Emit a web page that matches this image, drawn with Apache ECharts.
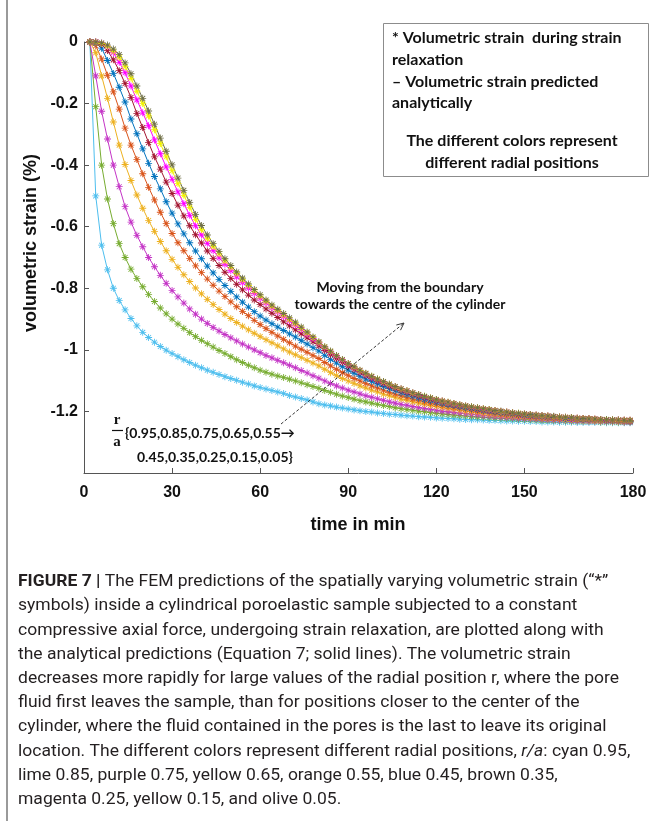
<!DOCTYPE html>
<html><head><meta charset="utf-8">
<script src="https://cdn.jsdelivr.net/npm/echarts@6/dist/echarts.min.js"></script>
<style>html,body{margin:0;padding:0;background:#fff}#c{width:652px;height:821px}</style>
</head><body><div id="c"></div>
<script>
// time in min (sample instants)
const times = [2,4,6,8,10,12,14,16,18,20,22,24,26,28,30,32,34,36,38,40,42,44,46,48,50,52,54,56,58,60,62,64,66,68,70,72,74,76,78,80,82,84,86,88,90,92,94,96,98,100,102,104,106,108,110,112,114,116,118,120,122,124,126,128,130,132,134,136,138,140,142,144,146,148,150,152,154,156,158,160,162,164,166,168,170,172,174,176,178,180,182,184,186];

// volumetric strain (%) per radial position r/a
const r095 = [0,-0.50,-0.66,-0.74,-0.80,-0.84,-0.87,-0.898,-0.922,-0.943,-0.96,-0.975,-0.989,-1.001,-1.012,-1.022,-1.032,-1.041,-1.05,-1.058,-1.066,-1.073,-1.08,-1.087,-1.093,-1.099,-1.105,-1.111,-1.117,-1.122,-1.127,-1.132,-1.137,-1.142,-1.148,
  -1.153,-1.158,-1.163,-1.169,
  -1.175,-1.179,-1.182,-1.186,-1.189,-1.192,-1.195,-1.198,-1.200,-1.202,-1.205,-1.207,-1.209,-1.210,-1.212,-1.214,-1.215,-1.217,-1.218,-1.219,-1.221,-1.222,-1.223,-1.224,-1.225,-1.226,-1.227,-1.227,-1.228,-1.229,-1.229,-1.230,-1.231,-1.231,-1.232,-1.232,-1.233,-1.233,-1.234,-1.234,-1.234,-1.235,-1.235,-1.235,-1.236,-1.236,-1.236,-1.236,-1.236,-1.237,-1.237,-1.237,-1.237,-1.237];
const r085 = [0,-0.21,-0.40,-0.51,-0.59,-0.655,-0.70,-0.738,-0.768,-0.795,-0.82,-0.843,-0.864,-0.883,-0.90,-0.916,-0.93,-0.944,-0.957,-0.969,-0.98,-0.991,-1.002,-1.012,-1.022,-1.032,-1.041,-1.05,-1.058,-1.066,-1.073,-1.079,-1.085,-1.09,-1.095,
  -1.101,-1.107,-1.113,-1.119,
  -1.125,-1.132,-1.138,-1.144,-1.150,-1.155,-1.160,-1.165,-1.169,-1.173,-1.177,-1.181,-1.184,-1.188,-1.191,-1.194,-1.196,-1.199,-1.201,-1.204,-1.206,-1.208,-1.210,-1.212,-1.213,-1.215,-1.216,-1.218,-1.219,-1.220,-1.221,-1.222,-1.223,-1.224,-1.225,-1.226,-1.227,-1.228,-1.229,-1.229,-1.230,-1.230,-1.231,-1.232,-1.232,-1.233,-1.233,-1.233,-1.234,-1.234,-1.234,-1.235,-1.235,-1.235];
const r075 = [0,-0.11,-0.225,-0.315,-0.40,-0.47,-0.535,-0.585,-0.628,-0.665,-0.70,-0.73,-0.758,-0.784,-0.807,-0.828,-0.848,-0.867,-0.884,-0.90,-0.914,-0.927,-0.939,-0.95,-0.961,-0.971,-0.981,-0.991,-1.0,-1.009,-1.018,-1.026,-1.034,-1.042,-1.05,
  -1.058,-1.067,-1.075,-1.084,
  -1.092,-1.101,-1.109,-1.117,-1.124,-1.131,-1.137,-1.143,-1.149,-1.154,-1.159,-1.164,-1.169,-1.173,-1.177,-1.180,-1.184,-1.187,-1.190,-1.193,-1.196,-1.199,-1.201,-1.203,-1.205,-1.207,-1.209,-1.211,-1.213,-1.214,-1.216,-1.217,-1.219,-1.220,-1.221,-1.222,-1.223,-1.224,-1.225,-1.226,-1.227,-1.228,-1.228,-1.229,-1.230,-1.230,-1.231,-1.231,-1.232,-1.232,-1.233,-1.233,-1.234,-1.234];
const r065 = [0,-0.035,-0.11,-0.183,-0.26,-0.335,-0.398,-0.45,-0.497,-0.54,-0.58,-0.615,-0.648,-0.678,-0.706,-0.732,-0.756,-0.778,-0.799,-0.818,-0.836,-0.853,-0.869,-0.884,-0.898,-0.911,-0.923,-0.935,-0.946,-0.957,-0.967,-0.977,-0.987,-0.997,-1.007,
  -1.016,-1.025,-1.034,-1.043,
  -1.052,-1.063,-1.074,-1.083,-1.093,-1.101,-1.109,-1.117,-1.124,-1.131,-1.137,-1.144,-1.149,-1.155,-1.160,-1.164,-1.169,-1.173,-1.177,-1.181,-1.184,-1.187,-1.190,-1.193,-1.196,-1.199,-1.201,-1.203,-1.206,-1.208,-1.210,-1.211,-1.213,-1.215,-1.216,-1.217,-1.219,-1.220,-1.221,-1.222,-1.223,-1.224,-1.225,-1.226,-1.227,-1.228,-1.228,-1.229,-1.230,-1.230,-1.231,-1.231,-1.232,-1.232];
const r055 = [0,-0.012,-0.055,-0.108,-0.162,-0.218,-0.28,-0.335,-0.382,-0.428,-0.472,-0.513,-0.553,-0.59,-0.622,-0.652,-0.678,-0.703,-0.727,-0.749,-0.77,-0.79,-0.809,-0.827,-0.844,-0.86,-0.875,-0.889,-0.904,-0.918,-0.931,-0.943,-0.955,-0.966,-0.977,
  -0.988,-0.998,-1.008,-1.018,
  -1.028,-1.041,-1.052,-1.063,-1.074,-1.083,-1.093,-1.101,-1.109,-1.117,-1.124,-1.131,-1.138,-1.144,-1.149,-1.155,-1.160,-1.164,-1.169,-1.173,-1.177,-1.181,-1.184,-1.187,-1.190,-1.193,-1.196,-1.199,-1.201,-1.203,-1.206,-1.208,-1.210,-1.211,-1.213,-1.215,-1.216,-1.218,-1.219,-1.220,-1.221,-1.222,-1.223,-1.224,-1.225,-1.226,-1.227,-1.228,-1.228,-1.229,-1.230,-1.230,-1.231,-1.232];
const r045 = [0,-0.003,-0.02,-0.06,-0.102,-0.147,-0.195,-0.25,-0.298,-0.347,-0.394,-0.437,-0.477,-0.519,-0.556,-0.591,-0.623,-0.652,-0.679,-0.704,-0.728,-0.75,-0.771,-0.791,-0.81,-0.828,-0.845,-0.861,-0.876,-0.89,-0.903,-0.915,-0.926,-0.937,-0.948,
  -0.958,-0.970,-0.981,-0.993,
  -1.004,-1.018,-1.031,-1.043,-1.055,-1.066,-1.076,-1.086,-1.095,-1.103,-1.111,-1.119,-1.126,-1.133,-1.139,-1.145,-1.151,-1.156,-1.161,-1.165,-1.170,-1.174,-1.178,-1.181,-1.185,-1.188,-1.191,-1.194,-1.197,-1.199,-1.202,-1.204,-1.206,-1.208,-1.210,-1.212,-1.213,-1.215,-1.216,-1.218,-1.219,-1.220,-1.222,-1.223,-1.224,-1.225,-1.225,-1.226,-1.227,-1.228,-1.229,-1.229,-1.230,-1.231];
const r035 = [0,0,-0.008,-0.028,-0.058,-0.093,-0.135,-0.18,-0.232,-0.278,-0.327,-0.373,-0.413,-0.455,-0.492,-0.53,-0.565,-0.597,-0.626,-0.653,-0.679,-0.703,-0.726,-0.748,-0.768,-0.787,-0.805,-0.822,-0.838,-0.853,-0.867,-0.881,-0.895,-0.909,-0.922,
  -0.935,-0.948,-0.961,-0.974,
  -0.987,-1.002,-1.016,-1.029,-1.041,-1.053,-1.064,-1.074,-1.084,-1.093,-1.102,-1.110,-1.118,-1.125,-1.132,-1.138,-1.144,-1.150,-1.155,-1.160,-1.165,-1.169,-1.173,-1.177,-1.181,-1.184,-1.188,-1.191,-1.194,-1.196,-1.199,-1.201,-1.204,-1.206,-1.208,-1.210,-1.211,-1.213,-1.215,-1.216,-1.218,-1.219,-1.220,-1.221,-1.222,-1.223,-1.224,-1.225,-1.226,-1.227,-1.228,-1.229,-1.229,-1.230];
const r025 = [0,0,-0.004,-0.015,-0.035,-0.066,-0.1,-0.143,-0.188,-0.23,-0.272,-0.318,-0.363,-0.406,-0.446,-0.487,-0.525,-0.563,-0.597,-0.627,-0.654,-0.678,-0.701,-0.722,-0.743,-0.763,-0.782,-0.8,-0.817,-0.833,-0.848,-0.863,-0.877,-0.892,-0.906,
  -0.920,-0.934,-0.949,-0.963,
  -0.977,-0.993,-1.007,-1.021,-1.034,-1.046,-1.057,-1.068,-1.078,-1.088,-1.097,-1.105,-1.113,-1.120,-1.127,-1.134,-1.140,-1.146,-1.152,-1.157,-1.162,-1.166,-1.171,-1.175,-1.179,-1.182,-1.186,-1.189,-1.192,-1.195,-1.197,-1.200,-1.202,-1.204,-1.207,-1.208,-1.210,-1.212,-1.214,-1.215,-1.217,-1.218,-1.219,-1.221,-1.222,-1.223,-1.224,-1.225,-1.226,-1.227,-1.227,-1.228,-1.229,-1.229];
const r015 = [0,-0.001,-0.005,-0.014,-0.03,-0.05,-0.08,-0.118,-0.16,-0.2,-0.24,-0.285,-0.33,-0.373,-0.418,-0.46,-0.498,-0.537,-0.576,-0.61,-0.638,-0.664,-0.688,-0.711,-0.732,-0.752,-0.772,-0.791,-0.809,-0.826,-0.842,-0.858,-0.873,-0.887,-0.901,
  -0.915,-0.930,-0.945,-0.960,
  -0.975,-0.991,-1.005,-1.019,-1.032,-1.044,-1.056,-1.067,-1.077,-1.086,-1.095,-1.104,-1.112,-1.120,-1.127,-1.133,-1.140,-1.145,-1.151,-1.156,-1.161,-1.166,-1.170,-1.174,-1.178,-1.182,-1.185,-1.188,-1.191,-1.194,-1.197,-1.200,-1.202,-1.204,-1.206,-1.208,-1.210,-1.212,-1.214,-1.215,-1.217,-1.218,-1.219,-1.220,-1.222,-1.223,-1.224,-1.225,-1.226,-1.226,-1.227,-1.228,-1.229,-1.229];
const r005 = [0,0,-0.003,-0.01,-0.023,-0.041,-0.068,-0.103,-0.143,-0.183,-0.224,-0.267,-0.312,-0.355,-0.399,-0.442,-0.482,-0.521,-0.56,-0.596,-0.627,-0.655,-0.68,-0.704,-0.726,-0.747,-0.767,-0.786,-0.804,-0.821,-0.838,-0.854,-0.868,-0.882,-0.896,
  -0.910,-0.926,-0.942,-0.958,
  -0.974,-0.990,-1.004,-1.018,-1.031,-1.044,-1.055,-1.066,-1.076,-1.086,-1.095,-1.103,-1.111,-1.119,-1.126,-1.133,-1.139,-1.145,-1.151,-1.156,-1.161,-1.166,-1.170,-1.174,-1.178,-1.182,-1.185,-1.188,-1.191,-1.194,-1.197,-1.199,-1.202,-1.204,-1.206,-1.208,-1.210,-1.212,-1.213,-1.215,-1.216,-1.218,-1.219,-1.220,-1.222,-1.223,-1.224,-1.225,-1.226,-1.226,-1.227,-1.228,-1.229,-1.229];

const radialPositions = ['0.95','0.85','0.75','0.65','0.55','0.45','0.35','0.25','0.15','0.05'];
const seriesValues = [r095,r085,r075,r065,r055,r045,r035,r025,r015,r005];
const seriesColors = ['#4DBEEE','#77AC30','#C434C6','#EDB120','#D95319','#0072BD','#A2142F','#FF00FF','#F2F200','#6F6F45'];

const xTickValues = [0,30,60,90,120,150,187];
const xTickLabels = ['0','30','60','90','120','150','180'];

const asterisk = 'path://M44 0H56V100H44Z M0 44H100V56H0Z M10.4 18.8L18.8 10.4L89.6 81.2L81.2 89.6Z M81.2 10.4L89.6 18.8L18.8 89.6L10.4 81.2Z';

const chart = echarts.init(document.getElementById('c'), null, {renderer:'canvas'});

const series = seriesValues.map((vals, k) => ({
  name: 'r/a ' + radialPositions[k],
  type: 'line',
  data: times.map((t, i) => [t, vals[i]]),
  symbol: asterisk,
  symbolSize: 7,
  symbolKeepAspect: true,
  showSymbol: true,
  showAllSymbol: true,
  lineStyle: {width: 1, color: seriesColors[k]},
  itemStyle: {color: seriesColors[k]},
  emphasis: {disabled: true},
  animation: false,
  silent: true
}));

const tickFont = {fontFamily: '"Liberation Sans", Arial, sans-serif', fontWeight: 'bold', fontSize: 16, color: '#111'};
const calibri = '"Lato", "Open Sans", sans-serif';

function txt(x, y, text, font, align, extra) {
  return Object.assign({
    type: 'text', x: x, y: y, silent: true,
    style: {text: text, font: font, fill: '#111', textAlign: align || 'left', align: align || 'left',
            textVerticalAlign: 'middle', verticalAlign: 'middle'}
  }, extra || {});
}

const legendFont = 'bold 16px ' + calibri;
const annFont = 'bold 14px ' + calibri;
const setFont = 'bold 14px ' + calibri;
const capFamily = 'Roboto, "Liberation Sans", sans-serif';
const captionLines = [
  '{b|FIGURE 7 |} The FEM predictions of the spatially varying volumetric strain (“*”',
  'symbols) inside a cylindrical poroelastic sample subjected to a constant',
  'compressive axial force, undergoing strain relaxation, are plotted along with',
  'the analytical predictions (Equation 7; solid lines). The volumetric strain',
  'decreases more rapidly for large values of the radial position r, where the pore',
  'fluid first leaves the sample, than for positions closer to the center of the',
  'cylinder, where the fluid contained in the pores is the last to leave its original',
  'location. The different colors represent different radial positions, {i|r/a}: cyan 0.95,',
  'lime 0.85, purple 0.75, yellow 0.65, orange 0.55, blue 0.45, brown 0.35,',
  'magenta 0.25, yellow 0.15, and olive 0.05.'
];

const graphics = [
  {type: 'rect', shape: {x: 6, y: 0, width: 2, height: 821}, style: {fill: '#9a9a9a'}, silent: true},
  {type: 'rect', shape: {x: 383.5, y: 23.5, width: 265, height: 153}, style: {fill: '#fff', stroke: '#8c8c8c', lineWidth: 1}, silent: true, z: 10},
  txt(392, 38, '* Volumetric strain  during strain', legendFont, 'left', {z: 11}),
  txt(392, 60, 'relaxation', legendFont, 'left', {z: 11}),
  txt(392, 82, '– Volumetric strain predicted', legendFont, 'left', {z: 11}),
  txt(392, 103, 'analytically', legendFont, 'left', {z: 11}),
  txt(512, 141, 'The different colors represent', legendFont, 'center', {z: 11}),
  txt(512, 163, 'different radial positions', legendFont, 'center', {z: 11}),
  txt(400, 287, 'Moving from the boundary', annFont, 'center', {z: 11}),
  txt(400, 304, 'towards the centre of the cylinder', annFont, 'center', {z: 11}),
  {type: 'line', shape: {x1: 281, y1: 424, x2: 404, y2: 323}, style: {stroke: '#222', lineWidth: 0.9, lineDash: [3, 2]}, silent: true, z: 11},
  {type: 'polyline', shape: {points: [[396.3, 325], [404, 323], [400.5, 330.2]]}, style: {stroke: '#222', lineWidth: 0.9, fill: null}, silent: true, z: 11},
  txt(117, 420, 'r', 'bold 15px "Liberation Serif", "DejaVu Serif", serif', 'center', {z: 11}),
  {type: 'line', shape: {x1: 112, y1: 430.5, x2: 123, y2: 430.5}, style: {stroke: '#111', lineWidth: 1.2}, silent: true, z: 11},
  txt(117, 442, 'a', 'bold 15px "Liberation Serif", "DejaVu Serif", serif', 'center', {z: 11}),
  txt(125, 433, '{0.95,0.85,0.75,0.65,0.55→', setFont, 'left', {z: 11}),
  txt(137, 457, '0.45,0.35,0.25,0.15,0.05}', setFont, 'left', {z: 11}),
  txt(31, 243, 'volumetric strain (%)', 'bold 18px "Liberation Sans", Arial, sans-serif', 'center', {rotation: Math.PI / 2}),
  txt(358, 525, 'time in min', 'bold 18px "Liberation Sans", Arial, sans-serif', 'center')
];

captionLines.forEach((line, i) => {
  graphics.push({
    type: 'text', x: 18, y: 582 + i * 24.2, scaleX: 1.03, silent: true,
    style: {
      text: line, fontFamily: capFamily, fontSize: 17, fontWeight: 'normal', fill: '#231f20',
      textVerticalAlign: 'middle', verticalAlign: 'middle',
      rich: {
        b: {fontFamily: capFamily, fontSize: 17, fontWeight: 'bold', fill: '#231f20'},
        i: {fontFamily: capFamily, fontSize: 17, fontStyle: 'italic', fill: '#231f20'}
      }
    }
  });
});

chart.setOption({
  animation: false,
  backgroundColor: '#fff',
  grid: {left: 84, top: 42, width: 549, height: 431, containLabel: false},
  xAxis: {
    type: 'value', min: 0, max: 187, interval: 30,
    axisLine: {show: true, onZero: false, lineStyle: {color: '#555', width: 1}},
    axisTick: {show: true, inside: true, length: 5, customValues: xTickValues, lineStyle: {color: '#555'}},
    axisLabel: Object.assign({margin: 12, customValues: xTickValues,
      formatter: v => { const k = xTickValues.indexOf(v); return k >= 0 ? xTickLabels[k] : ''; }}, tickFont),
    splitLine: {show: false}
  },
  yAxis: {
    type: 'value', min: -1.4, max: 0, interval: 0.2,
    axisLine: {show: true, onZero: false, lineStyle: {color: '#555', width: 1}},
    axisTick: {show: true, inside: true, length: 5, lineStyle: {color: '#555'}},
    axisLabel: Object.assign({margin: 6,
      formatter: v => (Math.abs(v + 1.4) < 1e-9 ? '' : String(+v.toFixed(1)))}, tickFont),
    splitLine: {show: false}
  },
  series: series,
  graphic: {elements: graphics}
});
</script>
</body></html>
